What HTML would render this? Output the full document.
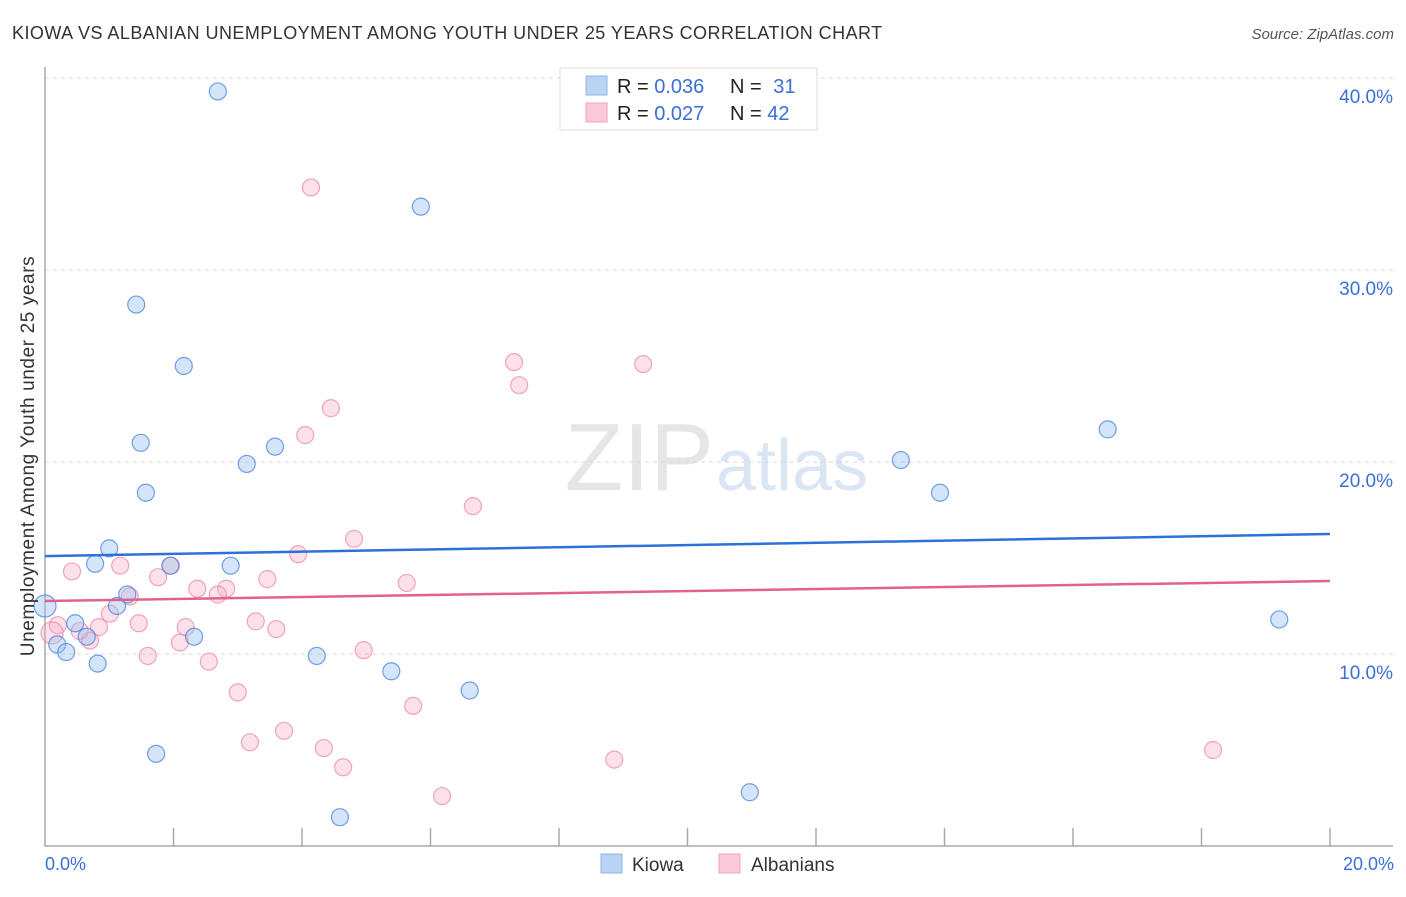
<!DOCTYPE html>
<html><head><meta charset="utf-8"><style>
body{margin:0;background:#fff;font-family:"Liberation Sans",sans-serif;}
svg text{font-family:"Liberation Sans",sans-serif;}
</style></head><body>
<svg id="chart" width="1406" height="892">
<text x="12" y="39" font-size="18" letter-spacing="0.45" fill="#333">KIOWA VS ALBANIAN UNEMPLOYMENT AMONG YOUTH UNDER 25 YEARS CORRELATION CHART</text>
<text x="1394" y="39" font-size="15" fill="#555" font-style="italic" text-anchor="end">Source: ZipAtlas.com</text>
<text x="714" y="490" font-size="96" fill="#e6e6e6" text-anchor="end" font-family="Liberation Serif">ZIP</text>
<text x="716" y="490" font-size="72" fill="#dbe6f5">atlas</text>
<g id="grid"></g><g id="axes"></g><g id="marks"></g>
<text transform="translate(34,456) rotate(-90)" font-size="19" letter-spacing="0.6" fill="#333" text-anchor="middle">Unemployment Among Youth under 25 years</text>
<text x="45" y="870" font-size="18" fill="#3a6fd8">0.0%</text>
<text x="1394" y="870" font-size="18" fill="#3a6fd8" text-anchor="end">20.0%</text>
<g>
<rect x="560" y="68" width="257" height="62" fill="#fff" stroke="#ddd"/>
<rect x="586" y="76" width="21" height="19" fill="#b9d3f5" stroke="#8fb4e8"/>
<rect x="586" y="103" width="21" height="19" fill="#fbc9d8" stroke="#f0a3bb"/>
<text x="617" y="93" font-size="20" fill="#222">R = <tspan fill="#3a6fd8">0.036</tspan></text>
<text x="730" y="93" font-size="20" fill="#222">N = <tspan fill="#3a6fd8" dx="6">31</tspan></text>
<text x="617" y="120" font-size="20" fill="#222">R = <tspan fill="#3a6fd8">0.027</tspan></text>
<text x="730" y="120" font-size="20" fill="#222">N = <tspan fill="#3a6fd8">42</tspan></text>
</g>
<g>
<rect x="601" y="854" width="21" height="19" fill="#b9d3f5" stroke="#8fb4e8"/>
<text x="632" y="871" font-size="19" fill="#333">Kiowa</text>
<rect x="719" y="854" width="21" height="19" fill="#fbc9d8" stroke="#f0a3bb"/>
<text x="751" y="871" font-size="19" fill="#333">Albanians</text>
</g>
</svg>
<script>
const yTicks=[10,20,30,40];
const yTickLabels=["10.0%","20.0%","30.0%","40.0%"];
const kiowaX=[2.69,5.85,1.42,2.16,1.49,3.14,3.58,1.57,1.00,0.78,1.95,2.89,1.28,1.12,0,0.47,0.65,0.19,0.33,2.32,0.82,4.23,5.39,6.61,1.73,4.59,10.97,13.32,13.93,16.54,19.21];
const kiowaY=[39.3,33.3,28.2,25.0,21.0,19.9,20.8,18.4,15.5,14.7,14.6,14.6,13.1,12.5,12.5,11.6,10.9,10.5,10.1,10.9,9.5,9.9,9.1,8.1,4.8,1.5,2.8,20.1,18.4,21.7,11.8];
const albX=[4.14,7.30,9.31,7.38,4.45,4.05,6.66,4.81,3.94,0.42,1.17,1.96,1.76,3.46,5.63,2.37,2.82,2.69,1.32,1.01,1.46,3.28,3.60,0.20,0.11,0.84,2.19,0.70,2.10,4.96,1.60,2.55,3.00,5.73,3.72,3.19,4.34,4.64,6.18,8.86,18.18,0.54];
const albY=[34.3,25.2,25.1,24.0,22.8,21.4,17.7,16.0,15.2,14.3,14.6,14.6,14.0,13.9,13.7,13.4,13.4,13.1,13.0,12.1,11.6,11.7,11.3,11.5,11.1,11.4,11.4,10.7,10.6,10.2,9.9,9.6,8.0,7.3,6.0,5.4,5.1,4.1,2.6,4.5,5.0,11.2];
const kiowaTrend=[15.1,16.25];
const albTrend=[12.76,13.8];
const NS="http://www.w3.org/2000/svg";
const sx=v=>45+v*64.25, sy=v=>846-v*19.2;
function mk(t,a,p){const e=document.createElementNS(NS,t);for(const k in a)e.setAttribute(k,a[k]);p.appendChild(e);return e;}
const grid=document.getElementById('grid'),axes=document.getElementById('axes'),marks=document.getElementById('marks');
yTicks.forEach((t,i)=>{
 const l=mk('line',{x1:45,x2:1393,y1:sy(t),y2:sy(t),stroke:'#d8d8d8','stroke-dasharray':'4,4'},grid);
 
 
 const tx=mk('text',{x:1393,y:sy(t)+25,'font-size':19,fill:'#3a6fd8','text-anchor':'end'},grid);
 tx.textContent=yTickLabels[i];
 
 
});
const ax=mk('path',{d:'M45,67 V846 H1393',fill:'none',stroke:'#aaa','stroke-width':1.5},axes);


for(let i=1;i<=10;i++){const t=mk('line',{x1:sx(i*2),x2:sx(i*2),y1:828,y2:846,stroke:'#aaa','stroke-width':1.5},axes);
 
 }
function pts(X,Y,fill,stroke,name){X.forEach((x,i)=>{const big=(x<0.25&&(Y[i]>12.3&&Y[i]<12.7||Y[i]>11&&Y[i]<11.2));
 const c=mk('circle',{cx:sx(x),cy:sy(Y[i]),r:big?11:8.5,fill:fill,stroke:stroke,'stroke-width':1.2},marks);
 
 });}
pts(albX,albY,'rgba(248,170,195,0.35)','rgba(235,130,165,0.7)','albanians-point');
pts(kiowaX,kiowaY,'rgba(150,190,240,0.4)','rgba(70,130,220,0.75)','kiowa-point');
const t1=mk('line',{x1:sx(0),x2:sx(20),y1:sy(kiowaTrend[0]),y2:sy(kiowaTrend[1]),stroke:'#2a72d6','stroke-width':2.5},marks);


const t2=mk('line',{x1:sx(0),x2:sx(20),y1:sy(albTrend[0]),y2:sy(albTrend[1]),stroke:'#e2628e','stroke-width':2.5},marks);


</script>
</body></html>
